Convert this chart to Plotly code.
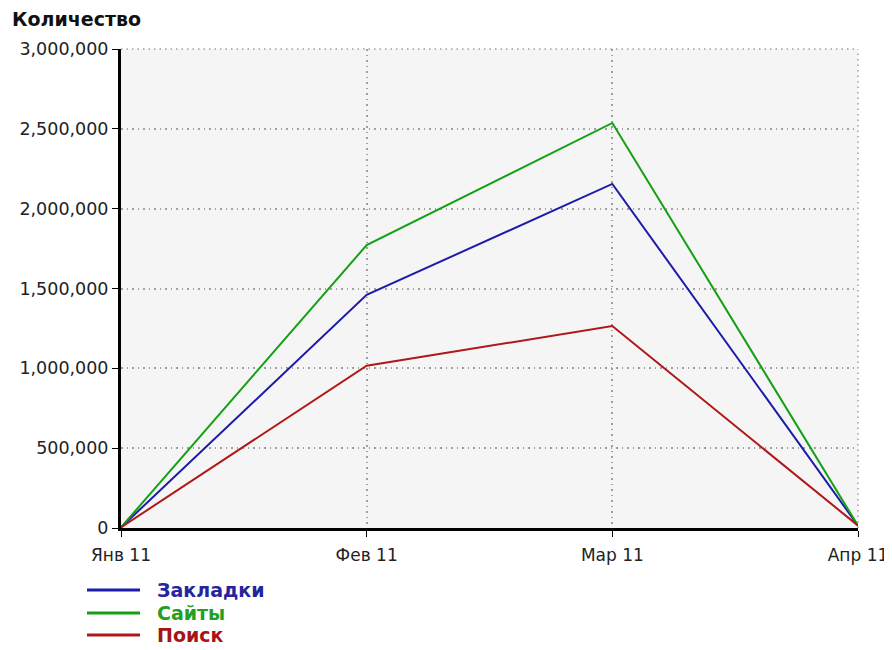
import plotly.graph_objects as go

months = ["Янв 11", "Фев 11", "Мар 11", "Апр 11"]
zakladki = [4000, 1460000, 2155000, 15000]
saity = [4000, 1772000, 2537000, 15000]
poisk = [4000, 1016000, 1265000, 15000]
y_ticks = [0, 500000, 1000000, 1500000, 2000000, 2500000, 3000000]

# page body adds an 8px offset; size the figure to fill the rest of the window
OFF = 8
W, H = 892 - OFF, 650 - OFF
L, R, T, B = 121 - OFF, 34, 49 - OFF, 122
PW, PH = W - L - R, H - T - B


def px_x(px):
    return (px - OFF - L) / PW


def px_y(py):
    return (H - B - (py - OFF)) / PH


series = [
    ("Закладки", zakladki, "#1c1ca8", "#25259c"),
    ("Сайты", saity, "#14a014", "#22a022"),
    ("Поиск", poisk, "#b01818", "#a61414"),
]

GRID_COLOR = "#a0a0a0"
GRID_DASH = "1.5px,4px"

fig = go.Figure()
xs = list(range(len(months)))
font_family = "DejaVu Sans"

# grid lines on the top and right edges of the plot area
fig.add_shape(type="line", xref="paper", yref="paper", x0=0, x1=1, y0=1, y1=1,
              line=dict(color=GRID_COLOR, width=1.5, dash=GRID_DASH), layer="below")
fig.add_shape(type="line", xref="paper", yref="paper", x0=1, x1=1, y0=0, y1=1,
              line=dict(color=GRID_COLOR, width=1.5, dash=GRID_DASH), layer="below")

legend_rows = [590, 613, 635]
for (name, vals, col, tcol), ry in zip(series, legend_rows):
    fig.add_trace(go.Scatter(
        x=xs, y=vals, mode="lines", name=name, showlegend=False,
        line=dict(color=col, width=2),
    ))
    # legend key
    fig.add_shape(type="line", xref="paper", yref="paper",
                  x0=px_x(87), x1=px_x(140), y0=px_y(ry), y1=px_y(ry),
                  line=dict(color=col, width=3))
    fig.add_annotation(xref="paper", yref="paper", x=px_x(155), y=px_y(ry),
                       xanchor="left", yanchor="middle", showarrow=False,
                       text=f"<b>{name}</b>",
                       font=dict(family=font_family, size=19, color=tcol))

fig.update_layout(
    width=W, height=H,
    margin=dict(l=L, r=R, t=T, b=B, autoexpand=False),
    paper_bgcolor="white",
    plot_bgcolor="#f5f5f5",
    font=dict(family=font_family, size=17, color="#222222"),
    showlegend=False,
    xaxis=dict(
        range=[0, len(months) - 1],
        tickmode="array", tickvals=xs, ticktext=months,
        showline=True, linecolor="black", linewidth=3,
        ticks="outside", ticklen=6, tickcolor="black", tickwidth=1,
        ticklabelstandoff=4,
        showgrid=True, gridcolor=GRID_COLOR, griddash=GRID_DASH, gridwidth=1.5,
        zeroline=False,
        tickfont=dict(size=17),
    ),
    yaxis=dict(
        range=[0, 3000000],
        tickmode="array", tickvals=y_ticks,
        tickformat=",d",
        showline=True, linecolor="black", linewidth=3,
        ticks="outside", ticklen=6, tickcolor="black", tickwidth=1,
        showgrid=True, gridcolor=GRID_COLOR, griddash=GRID_DASH, gridwidth=1.5,
        zeroline=False,
        tickfont=dict(size=17.5),
    ),
)

fig.add_annotation(xref="paper", yref="paper", x=px_x(10), y=px_y(19),
                   xanchor="left", yanchor="middle", showarrow=False,
                   text="<b>Количество</b>",
                   font=dict(family=font_family, size=19, color="#111111"))

fig.write_html("out.html")
